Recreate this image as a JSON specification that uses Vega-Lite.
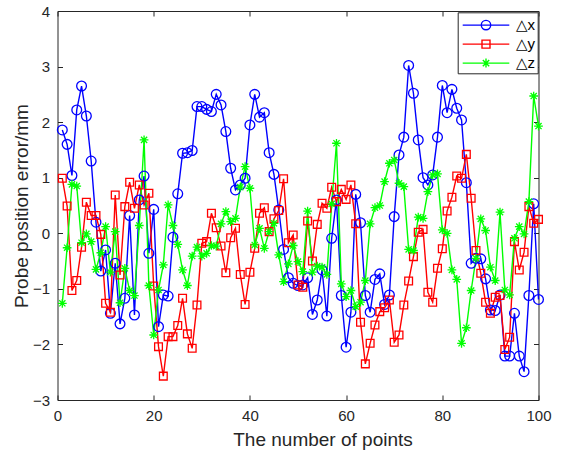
{
  "$schema": "https://vega.github.io/schema/vega-lite/v6.json",
  "width": 481,
  "height": 389,
  "autosize": {"type": "none"},
  "padding": {"left": 57.5, "top": 11, "right": 22.5, "bottom": 52},
  "background": "white",
  "config": {
    "view": {"stroke": null},
    "font": "Liberation Sans",
    "axis": {
      "grid": false,
      "labelFlush": false,
      "domainColor": "#262626",
      "domainWidth": 1,
      "tickColor": "#262626",
      "tickWidth": 1,
      "tickSize": -5,
      "labelColor": "#262626",
      "labelFont": "Liberation Sans",
      "labelFontSize": 15,
      "titleColor": "#262626",
      "titleFont": "Liberation Sans",
      "titleFontSize": 19,
      "titleFontWeight": "normal"
    }
  },
  "data": {
    "values": [
      {"n": 1, "dx": 1.86, "dy": 0.99, "dz": -1.26},
      {"n": 2, "dx": 1.60, "dy": 0.49, "dz": -0.26},
      {"n": 3, "dx": 1.04, "dy": -1.03, "dz": 0.88},
      {"n": 4, "dx": 2.22, "dy": -0.85, "dz": 0.85},
      {"n": 5, "dx": 2.65, "dy": -0.25, "dz": -0.17},
      {"n": 6, "dx": 2.11, "dy": 0.56, "dz": -0.01},
      {"n": 7, "dx": 1.30, "dy": 0.32, "dz": -0.15},
      {"n": 8, "dx": 0.20, "dy": 0.32, "dz": -0.65},
      {"n": 9, "dx": -0.68, "dy": -0.02, "dz": -0.35},
      {"n": 10, "dx": -0.30, "dy": -1.26, "dz": 0.12},
      {"n": 11, "dx": -1.44, "dy": -1.42, "dz": -0.70},
      {"n": 12, "dx": -0.54, "dy": 0.69, "dz": 0.03},
      {"n": 13, "dx": -1.63, "dy": -0.75, "dz": -1.25},
      {"n": 14, "dx": -1.17, "dy": 0.48, "dz": -0.63},
      {"n": 15, "dx": 0.32, "dy": 0.92, "dz": -1.03},
      {"n": 16, "dx": -1.47, "dy": 0.45, "dz": -1.12},
      {"n": 17, "dx": 0.60, "dy": 0.87, "dz": 0.14},
      {"n": 18, "dx": 1.03, "dy": 0.51, "dz": 1.68},
      {"n": 19, "dx": -0.36, "dy": 0.72, "dz": -0.94},
      {"n": 20, "dx": 0.43, "dy": -0.95, "dz": -1.83},
      {"n": 21, "dx": -1.68, "dy": -2.04, "dz": -1.02},
      {"n": 22, "dx": -1.11, "dy": -2.57, "dz": -0.57},
      {"n": 23, "dx": -1.13, "dy": -1.86, "dz": 0.51},
      {"n": 24, "dx": -0.07, "dy": -1.86, "dz": 0.14},
      {"n": 25, "dx": 0.71, "dy": -1.66, "dz": -0.20},
      {"n": 26, "dx": 1.44, "dy": -1.17, "dz": -0.66},
      {"n": 27, "dx": 1.45, "dy": -1.81, "dz": -0.94},
      {"n": 28, "dx": 1.49, "dy": -2.07, "dz": -0.41},
      {"n": 29, "dx": 2.28, "dy": -1.29, "dz": -0.25},
      {"n": 30, "dx": 2.28, "dy": -0.18, "dz": -0.41},
      {"n": 31, "dx": 2.23, "dy": -0.15, "dz": -0.36},
      {"n": 32, "dx": 2.19, "dy": 0.36, "dz": -0.22},
      {"n": 33, "dx": 2.50, "dy": 0.10, "dz": -0.23},
      {"n": 34, "dx": 2.31, "dy": -0.23, "dz": 0.17},
      {"n": 35, "dx": 1.83, "dy": -0.71, "dz": 0.39},
      {"n": 36, "dx": 1.17, "dy": -0.08, "dz": 0.21},
      {"n": 37, "dx": 0.78, "dy": 0.09, "dz": 0.27},
      {"n": 38, "dx": 0.87, "dy": -0.74, "dz": 0.83},
      {"n": 39, "dx": 0.99, "dy": -1.28, "dz": 1.20},
      {"n": 40, "dx": 1.95, "dy": -0.70, "dz": 0.81},
      {"n": 41, "dx": 2.50, "dy": -0.27, "dz": -0.21},
      {"n": 42, "dx": 2.09, "dy": 0.36, "dz": 0.09},
      {"n": 43, "dx": 2.17, "dy": 0.46, "dz": -0.27},
      {"n": 44, "dx": 1.45, "dy": 0.03, "dz": 0.03},
      {"n": 45, "dx": 1.06, "dy": 0.26, "dz": 0.18},
      {"n": 46, "dx": 0.42, "dy": 0.41, "dz": -0.39},
      {"n": 47, "dx": -0.29, "dy": 0.98, "dz": -0.87},
      {"n": 48, "dx": -0.80, "dy": -0.17, "dz": -0.55},
      {"n": 49, "dx": -0.90, "dy": -0.03, "dz": -0.22},
      {"n": 50, "dx": -0.94, "dy": -0.93, "dz": -0.51},
      {"n": 51, "dx": -0.93, "dy": -0.97, "dz": -0.69},
      {"n": 52, "dx": -0.80, "dy": 0.22, "dz": 0.40},
      {"n": 53, "dx": -1.46, "dy": -0.50, "dz": -0.70},
      {"n": 54, "dx": -1.20, "dy": 0.16, "dz": -0.59},
      {"n": 55, "dx": -0.66, "dy": 0.54, "dz": -0.61},
      {"n": 56, "dx": -1.49, "dy": 0.45, "dz": -0.74},
      {"n": 57, "dx": -0.09, "dy": 0.83, "dz": 0.53},
      {"n": 58, "dx": 0.60, "dy": 0.57, "dz": 1.62},
      {"n": 59, "dx": -1.12, "dy": 0.79, "dz": -0.91},
      {"n": 60, "dx": -2.05, "dy": 0.61, "dz": -1.14},
      {"n": 61, "dx": -1.42, "dy": 0.87, "dz": -1.03},
      {"n": 62, "dx": 0.70, "dy": 0.17, "dz": -1.32},
      {"n": 63, "dx": 0.19, "dy": -1.60, "dz": -1.24},
      {"n": 64, "dx": -1.12, "dy": -2.35, "dz": -0.85},
      {"n": 65, "dx": -1.42, "dy": -1.98, "dz": 0.17},
      {"n": 66, "dx": -0.83, "dy": -1.65, "dz": 0.46},
      {"n": 67, "dx": -0.73, "dy": -1.41, "dz": 0.50},
      {"n": 68, "dx": -1.28, "dy": -1.34, "dz": 0.93},
      {"n": 69, "dx": -1.11, "dy": -1.20, "dz": 1.26},
      {"n": 70, "dx": 0.30, "dy": -1.96, "dz": 1.32},
      {"n": 71, "dx": 1.41, "dy": -1.83, "dz": 0.90},
      {"n": 72, "dx": 1.73, "dy": -1.29, "dz": 0.84},
      {"n": 73, "dx": 3.02, "dy": -0.86, "dz": -0.29},
      {"n": 74, "dx": 2.52, "dy": -0.42, "dz": -0.31},
      {"n": 75, "dx": 1.68, "dy": 0.02, "dz": 0.29},
      {"n": 76, "dx": 1.00, "dy": 0.07, "dz": 0.27},
      {"n": 77, "dx": 0.87, "dy": -1.06, "dz": 0.75},
      {"n": 78, "dx": 1.05, "dy": -1.24, "dz": 1.05},
      {"n": 79, "dx": 1.73, "dy": -0.63, "dz": 1.07},
      {"n": 80, "dx": 2.66, "dy": -0.28, "dz": 0.06},
      {"n": 81, "dx": 2.17, "dy": 0.40, "dz": 0.00},
      {"n": 82, "dx": 2.59, "dy": 0.65, "dz": -0.66},
      {"n": 83, "dx": 2.25, "dy": 1.03, "dz": -0.83},
      {"n": 84, "dx": 2.04, "dy": 0.99, "dz": -1.98},
      {"n": 85, "dx": 0.91, "dy": 1.42, "dz": -1.70},
      {"n": 86, "dx": -0.54, "dy": 0.63, "dz": -1.03},
      {"n": 87, "dx": -0.45, "dy": -0.31, "dz": -0.45},
      {"n": 88, "dx": -0.46, "dy": -0.72, "dz": 0.26},
      {"n": 89, "dx": -0.82, "dy": -1.24, "dz": 0.05},
      {"n": 90, "dx": -1.38, "dy": -1.44, "dz": -0.61},
      {"n": 91, "dx": -1.39, "dy": -1.15, "dz": -0.85},
      {"n": 92, "dx": -1.11, "dy": -1.12, "dz": 0.38},
      {"n": 93, "dx": -2.21, "dy": -2.09, "dz": -1.02},
      {"n": 94, "dx": -2.21, "dy": -1.87, "dz": -1.11},
      {"n": 95, "dx": -1.44, "dy": -0.15, "dz": -0.09},
      {"n": 96, "dx": -2.21, "dy": -0.66, "dz": 0.12},
      {"n": 97, "dx": -2.49, "dy": -0.34, "dz": -0.01},
      {"n": 98, "dx": -1.12, "dy": 0.48, "dz": 0.57},
      {"n": 99, "dx": 0.53, "dy": 0.18, "dz": 2.47},
      {"n": 100, "dx": -1.19, "dy": 0.25, "dz": 1.93}
    ]
  },
  "transform": [{"fold": ["dx", "dy", "dz"], "as": ["series", "value"]}],
  "layer": [
    {
      "mark": {"type": "line", "strokeWidth": 1.4},
      "encoding": {
        "x": {
          "field": "n", "type": "quantitative",
          "scale": {"domain": [0, 100], "nice": false, "zero": false},
          "axis": {"orient": "bottom", "values": [0, 20, 40, 60, 80, 100], "labelPadding": 13, "title": "The number of points", "titlePadding": 7, "titleX": 265}
        },
        "y": {
          "field": "value", "type": "quantitative",
          "scale": {"domain": [-3, 4], "nice": false, "zero": false},
          "axis": {"orient": "left", "values": [-3, -2, -1, 0, 1, 2, 3, 4], "labelPadding": 13, "title": "Probe position error/mm", "titlePadding": 1}
        },
        "color": {
          "field": "series", "type": "nominal",
          "scale": {"domain": ["dx", "dy", "dz"], "range": ["#0000ff", "#ff0000", "#00ff00"]},
          "legend": {
            "orient": "none",
            "legendX": 400.2,
            "legendY": 1.3,
            "title": null,
            "padding": 1.8,
            "rowPadding": 0,
            "symbolType": "stroke",
            "symbolSize": 400,
            "symbolOffset": 15.5,
            "labelOffset": 19,
            "symbolStrokeWidth": 1.4,
            "symbolFillColor": "transparent",
            "strokeColor": "#262626",
            "fillColor": "white",
            "labelFont": "Liberation Sans, DejaVu Sans",
            "labelFontSize": 15,
            "labelColor": "black",
            "labelExpr": "'△' + slice(datum.label, 1)",
            "encode": {
              "symbols": {
                "update": {
                  "shape": {
                    "signal": "datum.value === 'dx' ? 'M-2.33,0L2.33,0M-0.47,0A0.47,0.47,0,1,1,0.47,0A0.47,0.47,0,1,1,-0.47,0' : datum.value === 'dy' ? 'M-2.33,0L2.33,0M-0.4,-0.4L0.4,-0.4L0.4,0.4L-0.4,0.4Z' : 'M-2.33,0L2.33,0M0,-0.45L0,0.45M-0.32,-0.32L0.32,0.32M-0.32,0.32L0.32,-0.32'"
                  },
                  "size": {"value": 400}
                }
              }
            }
          }
        }
      }
    },
    {
      "transform": [{"filter": "datum.series === 'dx'"}],
      "mark": {"type": "point", "shape": "circle", "filled": false, "color": "#0000ff", "strokeWidth": 1.3, "size": 95, "opacity": 1},
      "encoding": {
        "x": {
          "field": "n", "type": "quantitative",
          "scale": {"domain": [0, 100], "nice": false, "zero": false},
          "axis": {"orient": "top", "values": [0, 20, 40, 60, 80, 100], "labels": false, "title": null}
        },
        "y": {
          "field": "value", "type": "quantitative",
          "scale": {"domain": [-3, 4], "nice": false, "zero": false},
          "axis": {"orient": "right", "values": [-3, -2, -1, 0, 1, 2, 3, 4], "labels": false, "title": null}
        }
      }
    },
    {
      "transform": [{"filter": "datum.series === 'dy'"}],
      "mark": {"type": "point", "shape": "square", "filled": false, "color": "#ff0000", "strokeWidth": 1.3, "size": 60, "opacity": 1},
      "encoding": {
        "x": {"field": "n", "type": "quantitative", "scale": {"domain": [0, 100], "nice": false, "zero": false}, "axis": null},
        "y": {"field": "value", "type": "quantitative", "scale": {"domain": [-3, 4], "nice": false, "zero": false}, "axis": null}
      }
    },
    {
      "transform": [{"filter": "datum.series === 'dz'"}],
      "mark": {"type": "point", "shape": "M-1,0L1,0M0,-1L0,1M-0.71,-0.71L0.71,0.71M-0.71,0.71L0.71,-0.71", "filled": false, "color": "#00ff00", "strokeWidth": 1.3, "size": 76, "opacity": 1},
      "encoding": {
        "x": {"field": "n", "type": "quantitative", "scale": {"domain": [0, 100], "nice": false, "zero": false}, "axis": null},
        "y": {"field": "value", "type": "quantitative", "scale": {"domain": [-3, 4], "nice": false, "zero": false}, "axis": null}
      }
    }
  ],
  "resolve": {"axis": {"x": "independent", "y": "independent"}}
}
